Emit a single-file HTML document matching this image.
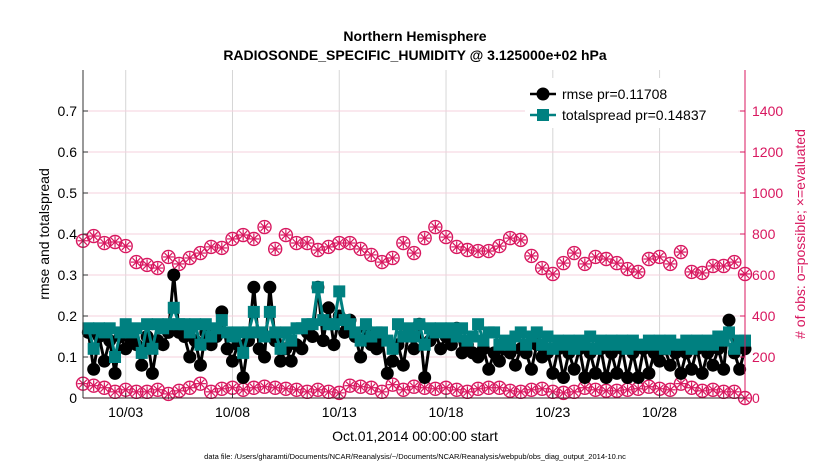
<!DOCTYPE html>
<html><head><meta charset="utf-8"><style>
body{margin:0;background:#fff;font-family:"Liberation Sans",sans-serif}
svg text{font-family:"Liberation Sans",sans-serif}
</style></head><body>
<svg id="c" width="830" height="470" xmlns="http://www.w3.org/2000/svg">
<text x="415" y="41" text-anchor="middle" font-size="14" font-weight="bold">Northern Hemisphere</text>
<text x="415" y="60" text-anchor="middle" font-size="14" font-weight="bold">RADIOSONDE_SPECIFIC_HUMIDITY @ 3.125000e+02 hPa</text>
<g id="grid"></g><g id="marks"></g><g id="axes"></g>
<text transform="translate(49,234) rotate(-90)" text-anchor="middle" font-size="14">rmse and totalspread</text>
<text transform="translate(805,234) rotate(-90)" text-anchor="middle" font-size="14" fill="#d8175f"># of obs: o=possible; ×=evaluated</text>
<text x="415" y="441" text-anchor="middle" font-size="14">Oct.01,2014 00:00:00 start</text>
<text x="415" y="459" text-anchor="middle" font-size="7.5">data file: /Users/gharamti/Documents/NCAR/Reanalysis/~/Documents/NCAR/Reanalysis/webpub/obs_diag_output_2014-10.nc</text>
<g>
<rect x="525" y="78" width="213" height="50" fill="#fff" stroke="none"/>
<line x1="530" y1="94" x2="556" y2="94" stroke="#000" stroke-width="2.5"/><circle cx="543" cy="94" r="6.5" fill="#000"/>
<text x="562" y="99" font-size="14">rmse pr=0.11708</text>
<line x1="530" y1="115" x2="556" y2="115" stroke="#008080" stroke-width="2.5"/><rect x="537" y="109" width="12" height="12" fill="#008080"/>
<text x="562" y="120" font-size="14">totalspread pr=0.14837</text>
</g>
</svg>
<script>
const xTicks=[2,7,12,17,22,27];
const xTickLabels=["10/03","10/08","10/13","10/18","10/23","10/28"];
const yTicks=[0,0.1,0.2,0.3,0.4,0.5,0.6,0.7];
const yTickLabels=["0","0.1","0.2","0.3","0.4","0.5","0.6","0.7"];
const y2Ticks=[0,200,400,600,800,1000,1200,1400];
const rmse=[0.16,0.07,0.15,0.09,0.14,0.06,0.15,0.12,0.14,0.13,0.08,0.15,0.06,0.14,0.13,0.16,0.30,0.16,0.15,0.10,0.14,0.08,0.16,0.13,0.15,0.21,0.12,0.09,0.13,0.05,0.14,0.27,0.12,0.10,0.27,0.14,0.09,0.12,0.09,0.13,0.12,0.16,0.15,0.27,0.14,0.22,0.13,0.20,0.16,0.19,0.15,0.10,0.17,0.13,0.12,0.14,0.06,0.09,0.13,0.08,0.16,0.12,0.18,0.05,0.14,0.16,0.12,0.15,0.13,0.17,0.11,0.13,0.11,0.10,0.12,0.07,0.11,0.09,0.12,0.11,0.08,0.12,0.11,0.07,0.13,0.10,0.11,0.06,0.12,0.05,0.11,0.07,0.12,0.05,0.11,0.06,0.12,0.05,0.11,0.06,0.12,0.05,0.11,0.05,0.12,0.06,0.11,0.09,0.12,0.08,0.11,0.06,0.11,0.07,0.12,0.06,0.11,0.08,0.12,0.07,0.19,0.11,0.07,0.12];
const spread=[0.17,0.12,0.17,0.16,0.17,0.10,0.16,0.18,0.16,0.17,0.11,0.18,0.12,0.18,0.17,0.18,0.22,0.18,0.18,0.16,0.18,0.13,0.18,0.15,0.17,0.19,0.16,0.15,0.16,0.11,0.16,0.21,0.16,0.15,0.21,0.16,0.12,0.16,0.14,0.17,0.17,0.18,0.18,0.27,0.19,0.18,0.18,0.26,0.19,0.18,0.16,0.14,0.18,0.15,0.16,0.16,0.14,0.12,0.18,0.15,0.17,0.15,0.18,0.13,0.17,0.16,0.17,0.16,0.17,0.15,0.17,0.14,0.15,0.18,0.14,0.16,0.16,0.13,0.14,0.13,0.15,0.16,0.13,0.15,0.16,0.13,0.15,0.12,0.14,0.13,0.14,0.12,0.14,0.13,0.15,0.12,0.14,0.13,0.14,0.13,0.14,0.12,0.14,0.13,0.13,0.14,0.13,0.14,0.12,0.14,0.13,0.13,0.14,0.12,0.14,0.13,0.14,0.13,0.15,0.14,0.16,0.12,0.14,0.14];
const possible=[767,790,756,761,741,663,649,634,688,654,683,707,737,732,776,795,776,834,727,795,756,756,722,737,756,756,727,698,663,683,756,707,780,834,785,737,722,717,717,741,780,771,693,634,605,658,707,654,688,678,658,629,615,678,688,654,712,615,610,644,644,663,605];
const evaluated=[70,60,50,30,40,30,30,40,20,35,50,70,30,45,50,40,50,55,50,45,40,30,40,30,25,60,55,50,30,65,40,55,50,45,50,40,30,45,50,50,35,30,40,45,30,25,30,50,40,35,35,40,45,55,45,40,70,50,35,40,30,30,0];
const NS="http://www.w3.org/2000/svg";
const X0=83,X1=745,Y0=398,Y1=70;
const xs=d=>X0+d/31*(X1-X0);
const ys=v=>Y0-v/0.8*(Y0-Y1);
const ys2=v=>Y0-v/1600*(Y0-Y1);
function el(t,a,p){const e=document.createElementNS(NS,t);for(const k in a)e.setAttribute(k,a[k]);p.appendChild(e);return e;}
const grid=document.getElementById('grid'),marks=document.getElementById('marks'),axes=document.getElementById('axes');
xTicks.forEach((d,i)=>{
  const g=el('line',{x1:xs(d),x2:xs(d),y1:Y1,y2:Y0,stroke:'#d6d6d6','stroke-width':1},grid);
  
  
  el('line',{x1:xs(d),x2:xs(d),y1:Y0,y2:Y0-5,stroke:'#333'},axes);
  const t=el('text',{x:xs(d),y:417,'text-anchor':'middle','font-size':14},axes);t.textContent=xTickLabels[i];
  
  
});
y2Ticks.forEach(v=>{
  if(v>0){const g=el('line',{x1:X0,x2:X1,y1:ys2(v),y2:ys2(v),stroke:'#f5d0dd','stroke-width':1},grid);
  
  }
  el('line',{x1:X1,x2:X1-5,y1:ys2(v),y2:ys2(v),stroke:'#d8175f'},axes);
  const t=el('text',{x:752,y:ys2(v)+5,'font-size':14,fill:'#d8175f'},axes);t.textContent=v;
  
  
});
yTicks.forEach((v,i)=>{
  el('line',{x1:X0,x2:X0+5,y1:ys(v),y2:ys(v),stroke:'#333'},axes);
  const t=el('text',{x:X0-6,y:ys(v)+5,'text-anchor':'end','font-size':14},axes);t.textContent=yTickLabels[i];
  
  
});
el('line',{x1:X0,x2:X0,y1:Y1,y2:Y0,stroke:'#333'},axes);
el('line',{x1:X0,x2:X1,y1:Y0,y2:Y0,stroke:'#3a1a22'},axes);
el('line',{x1:X1,x2:X1,y1:Y1,y2:Y0,stroke:'#d8175f'},axes);
function pinkMarker(cx,cy,name){
  const g=el('g',{},marks);
  
  
  el('circle',{cx:cx,cy:cy,r:6.5,fill:'none',stroke:'#d8175f','stroke-width':1.4},g);
  for(let a=0;a<4;a++){const an=a*Math.PI/4;el('line',{x1:cx-5.5*Math.cos(an),y1:cy-5.5*Math.sin(an),x2:cx+5.5*Math.cos(an),y2:cy+5.5*Math.sin(an),stroke:'#d8175f','stroke-width':1.2},g);}
}
possible.forEach((v,i)=>pinkMarker(xs(i*0.5),ys2(v),'possible-obs-point'));
evaluated.forEach((v,i)=>pinkMarker(xs(i*0.5),ys2(v),'evaluated-obs-point'));
const rl=el('polyline',{points:rmse.map((v,i)=>xs((i+1)*0.25)+','+ys(v)).join(' '),fill:'none',stroke:'#000','stroke-width':3},marks);


rmse.forEach((v,i)=>{const c=el('circle',{cx:xs((i+1)*0.25),cy:ys(v),r:6.5,fill:'#000'},marks);
  
  });
const sl=el('polyline',{points:spread.map((v,i)=>xs((i+1)*0.25)+','+ys(v)).join(' '),fill:'none',stroke:'#008080','stroke-width':3},marks);


spread.forEach((v,i)=>{const r=el('rect',{x:xs((i+1)*0.25)-6,y:ys(v)-6,width:12,height:12,fill:'#008080'},marks);
  
  });
</script>
</body></html>
